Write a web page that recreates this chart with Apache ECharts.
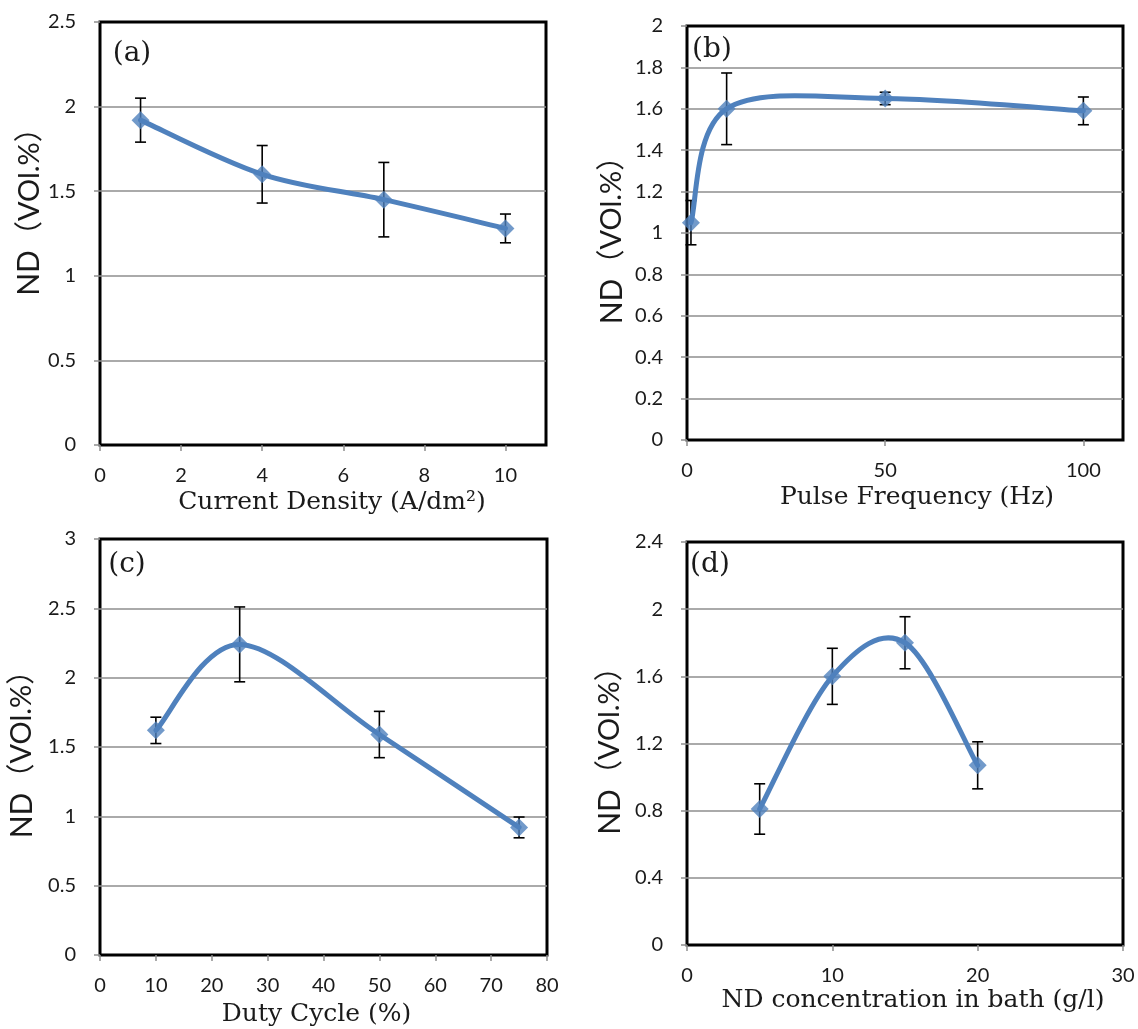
<!DOCTYPE html>
<html>
<head>
<meta charset="utf-8">
<title>ND content vs. plating parameters</title>
<script src="https://cdn.jsdelivr.net/npm/echarts@6/dist/echarts.min.js"></script>
<style>
  html, body { margin: 0; padding: 0; background: #ffffff; }
  #chart { width: 1138px; height: 1029px; }
</style>
</head>
<body>
<div id="chart"></div>
<script>
// (a) current density, A/dm2
const densityX = [1, 4, 7, 10];
const densityND = [1.92, 1.60, 1.45, 1.28];
const densityErr = [0.13, 0.17, 0.22, 0.085];
const densityTicks = [0, 2, 4, 6, 8, 10];

// (b) pulse frequency, Hz
const freqX = [1, 10, 50, 100];
const freqND = [1.05, 1.60, 1.65, 1.59];
const freqErr = [0.107, 0.173, 0.03, 0.067];
const freqTicks = [0, 50, 100];

// (c) duty cycle, %
const dutyX = [10, 25, 50, 75];
const dutyND = [1.62, 2.24, 1.59, 0.92];
const dutyErr = [0.095, 0.27, 0.167, 0.075];
const dutyTicks = [0, 10, 20, 30, 40, 50, 60, 70, 80];

// (d) ND concentration in bath, g/l
const concX = [5, 10, 15, 20];
const concND = [0.81, 1.60, 1.80, 1.07];
const concErr = [0.15, 0.167, 0.155, 0.14];
const concTicks = [0, 10, 20, 30];

const BLUE = '#4f81bd';
const GRID_GRAY = '#8e8e8e';
const TEXT = '#1a1a1a';

const panels = [
  { tag: '(a)', xs: densityX, ys: densityND, es: densityErr, ticks: densityTicks,
    xMax: 11, yMax: 2.5, yStep: 0.5,
    xName: 'Current Density (A/dm²)',
    grid: { left: 100, top: 22, width: 446, height: 423 },
    tagPos: [132, 54], xShift: 9, yShift: 29, yGap: 54, xGap: 45 },
  { tag: '(b)', xs: freqX, ys: freqND, es: freqErr, ticks: freqTicks,
    xMax: 110, yMax: 2, yStep: 0.2,
    xName: 'Pulse Frequency (Hz)',
    grid: { left: 687, top: 26, width: 436, height: 414 },
    tagPos: [712, 50], xShift: 12, yShift: 0, yGap: 60, xGap: 45 },
  { tag: '(c)', xs: dutyX, ys: dutyND, es: dutyErr, ticks: dutyTicks,
    xMax: 80, yMax: 3, yStep: 0.5,
    xName: 'Duty Cycle (%)',
    grid: { left: 100, top: 539, width: 447, height: 416 },
    tagPos: [127, 565], xShift: -7, yShift: 0, yGap: 63, xGap: 47 },
  { tag: '(d)', xs: concX, ys: concND, es: concErr, ticks: concTicks,
    xMax: 30, yMax: 2.4, yStep: 0.4,
    xName: 'ND concentration in bath (g/l)',
    grid: { left: 687, top: 542, width: 436, height: 403 },
    tagPos: [710, 565], xShift: 8, yShift: 0, yGap: 62, xGap: 43 }
];

// Smoothed line drawn as cubic Bezier segments (Catmull-Rom style, 1/6 tangents)
function smoothCurve(xs, ys) {
  return function (params, api) {
    const p = xs.map((x, k) => api.coord([x, ys[k]]));
    const n = p.length;
    const segs = [];
    for (let k = 0; k < n - 1; k++) {
      const p0 = p[Math.max(k - 1, 0)];
      const p1 = p[k];
      const p2 = p[k + 1];
      const p3 = p[Math.min(k + 2, n - 1)];
      segs.push({
        type: 'bezierCurve',
        shape: {
          x1: p1[0], y1: p1[1], x2: p2[0], y2: p2[1],
          cpx1: p1[0] + (p2[0] - p0[0]) / 6,
          cpy1: p1[1] + (p2[1] - p0[1]) / 6,
          cpx2: p2[0] - (p3[0] - p1[0]) / 6,
          cpy2: p2[1] - (p3[1] - p1[1]) / 6
        },
        style: { stroke: BLUE, lineWidth: 5, fill: 'none', lineCap: 'round' }
      });
    }
    return { type: 'group', children: segs };
  };
}

// Vertical error bar with end caps
function errorBar(params, api) {
  const x = api.value(0), y = api.value(1), e = api.value(2);
  const hi = api.coord([x, y + e]);
  const lo = api.coord([x, y - e]);
  const w = 5.5;
  const st = { stroke: '#000000', lineWidth: 1.6 };
  return {
    type: 'group',
    children: [
      { type: 'line', shape: { x1: hi[0], y1: hi[1], x2: lo[0], y2: lo[1] }, style: st },
      { type: 'line', shape: { x1: hi[0] - w, y1: hi[1], x2: hi[0] + w, y2: hi[1] }, style: st },
      { type: 'line', shape: { x1: lo[0] - w, y1: lo[1], x2: lo[0] + w, y2: lo[1] }, style: st }
    ]
  };
}

const grids = [], xAxes = [], yAxes = [], series = [], graphics = [];

panels.forEach((pn, i) => {
  grids.push(Object.assign({
    show: true, borderColor: '#000000', borderWidth: 3, backgroundColor: '#ffffff',
    containLabel: false
  }, pn.grid));

  xAxes.push({
    type: 'value', gridIndex: i, min: 0, max: pn.xMax,
    axisLine: { show: false },
    axisTick: { show: true, length: 6, customValues: pn.ticks,
      lineStyle: { color: GRID_GRAY, width: 1.5 } },
    axisLabel: { customValues: pn.ticks, color: TEXT, fontFamily: 'Lato', fontSize: 20, margin: 21 },
    splitLine: { show: false },
    name: pn.xName,
    nameLocation: 'middle',
    nameGap: pn.xGap,
    nameTextStyle: {
      fontFamily: 'DejaVu Serif', fontSize: 25, color: TEXT,
      padding: pn.xShift >= 0 ? [0, 0, 0, pn.xShift * 2] : [0, -pn.xShift * 2, 0, 0]
    }
  });

  // a leading blank box shifts the rotated title along the axis where needed
  const yTitle = (pn.yShift ? '{s| }' : '') + '{n|ND}{p|（VOl.%）}';
  yAxes.push({
    type: 'value', gridIndex: i, min: 0, max: pn.yMax, interval: pn.yStep,
    axisLine: { show: false },
    axisTick: { show: true, length: 6, lineStyle: { color: GRID_GRAY, width: 1.5 } },
    axisLabel: { color: TEXT, fontFamily: 'Lato', fontSize: 20, margin: 24 },
    splitLine: { show: true, showMinLine: false, showMaxLine: false,
      lineStyle: { color: GRID_GRAY, width: 1.5 } },
    name: yTitle,
    nameLocation: 'middle',
    nameGap: pn.yGap,
    nameTextStyle: {
      color: TEXT,
      rich: {
        s: { width: pn.yShift * 2, fontSize: 10, lineHeight: 30 },
        n: { fontFamily: 'Lato', fontSize: 30, color: TEXT, lineHeight: 30 },
        p: { fontFamily: 'Lato, "Noto Sans CJK SC"', fontSize: 29, color: TEXT, lineHeight: 30 }
      }
    }
  });

  const pts = pn.xs.map((x, k) => [x, pn.ys[k], pn.es[k]]);

  series.push({
    type: 'custom', name: 'err' + i, xAxisIndex: i, yAxisIndex: i,
    data: pts, renderItem: errorBar, z: 2, silent: true
  });
  series.push({
    type: 'custom', name: 'curve' + i, xAxisIndex: i, yAxisIndex: i,
    data: [[pn.xs[0], pn.ys[0]]], renderItem: smoothCurve(pn.xs, pn.ys), z: 3, silent: true
  });
  series.push({
    type: 'scatter', name: 'ND' + i, xAxisIndex: i, yAxisIndex: i,
    data: pts.map(d => [d[0], d[1]]),
    symbol: 'diamond', symbolSize: 18,
    itemStyle: { color: BLUE },
    z: 4, silent: true
  });

  graphics.push({
    type: 'text', x: pn.tagPos[0], y: pn.tagPos[1], z: 10,
    style: { text: pn.tag, fill: TEXT, font: '28px "DejaVu Serif"', align: 'center', verticalAlign: 'middle' }
  });
});

const chart = echarts.init(document.getElementById('chart'), null, { renderer: 'canvas' });
chart.setOption({
  animation: false,
  backgroundColor: '#ffffff',
  grid: grids,
  xAxis: xAxes,
  yAxis: yAxes,
  series: series,
  graphic: graphics
});
</script>
</body>
</html>
